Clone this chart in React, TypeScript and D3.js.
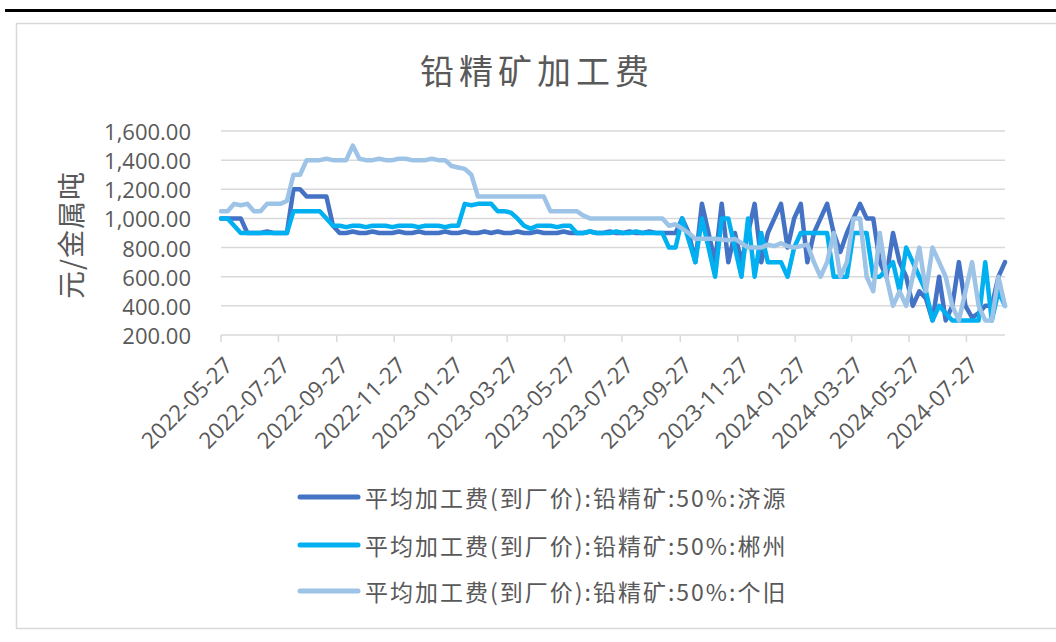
import React, { useEffect, useRef } from "react";
import * as d3 from "d3";

const W = 1056;
const H = 642;

// weekly observations, first one 2022-05-27, last 2024-09-06
const firstDate = "2022-05-27";
const lastDate = "2024-09-06";

const tickLabels = [
  "2022-05-27", "2022-07-27", "2022-09-27", "2022-11-27", "2023-01-27",
  "2023-03-27", "2023-05-27", "2023-07-27", "2023-09-27", "2023-11-27",
  "2024-01-27", "2024-03-27", "2024-05-27", "2024-07-27",
];
const yTicks = [200, 400, 600, 800, 1000, 1200, 1400, 1600];

const seriesNames = [
  "平均加工费(到厂价):铅精矿:50%:济源",
  "平均加工费(到厂价):铅精矿:50%:郴州",
  "平均加工费(到厂价):铅精矿:50%:个旧",
];
const seriesColors = ["#4472C4", "#00B0F0", "#9DC3E6"];

const jiyuan = [
  1000, 1000, 1000, 1000, 900, 900, 900, 910, 900, 900,
  900, 1200, 1200, 1150, 1150, 1150, 1150, 950, 900, 900,
  910, 900, 900, 910, 900, 900, 900, 910, 900, 900,
  910, 900, 900, 900, 910, 900, 900, 910, 900, 900,
  910, 900, 910, 900, 900, 910, 900, 900, 910, 900,
  900, 900, 910, 900, 900, 900, 910, 900, 900, 910,
  900, 900, 910, 900, 900, 910, 900, 900, 900, 900,
  1000, 900, 700, 1100, 900, 700, 1100, 700, 900, 700,
  900, 1100, 700, 900, 1000, 1100, 800, 1000, 1100, 700,
  900, 1000, 1100, 900, 770, 900, 1000, 1100, 1000, 1000,
  700, 600, 900, 700, 600, 400, 500, 450, 300, 600,
  300, 400, 700, 400, 320, 350, 400, 400, 600, 700,
];

const chenzhou = [
  1000, 1000, 950, 900, 900, 900, 900, 900, 900, 900,
  900, 1050, 1050, 1050, 1050, 1050, 1000, 950, 950, 940,
  950, 950, 940, 950, 950, 950, 940, 950, 950, 950,
  940, 950, 950, 950, 940, 950, 950, 1100, 1090, 1100,
  1100, 1100, 1050, 1050, 1040, 1000, 950, 930, 950, 950,
  950, 940, 950, 950, 900, 900, 910, 900, 900, 900,
  910, 900, 900, 910, 900, 900, 900, 900, 800, 800,
  1000, 850, 700, 1000, 800, 600, 1000, 1000, 800, 600,
  1000, 600, 900, 700, 700, 700, 600, 800, 900, 900,
  900, 900, 900, 600, 600, 600, 900, 900, 900, 600,
  600, 650, 700, 500, 800, 700, 600, 500, 300, 400,
  350, 300, 300, 300, 300, 300, 700, 300, 500, 400,
];

const gejiu = [
  1050, 1050, 1100, 1090, 1100, 1050, 1050, 1100, 1100, 1100,
  1120, 1300, 1300, 1400, 1400, 1400, 1410, 1400, 1400, 1400,
  1500, 1410, 1400, 1400, 1410, 1400, 1400, 1410, 1410, 1400,
  1400, 1400, 1410, 1400, 1400, 1360, 1350, 1340, 1300, 1150,
  1150, 1150, 1150, 1150, 1150, 1150, 1150, 1150, 1150, 1150,
  1050, 1050, 1050, 1050, 1050, 1020, 1000, 1000, 1000, 1000,
  1000, 1000, 1000, 1000, 1000, 1000, 1000, 1000, 950, 960,
  930, 900, 860, 860, 860, 860, 855, 850, 860, 830,
  800, 800, 800, 820, 810, 830, 810, 800, 810, 820,
  700, 600, 700, 900, 600, 700, 1000, 1000, 600, 500,
  900, 600, 400, 500, 400, 600, 800, 500, 800, 700,
  600, 400, 300, 500, 700, 400, 300, 300, 600, 400,
];

const allSeries = [jiyuan, chenzhou, gejiu];

const TEXT = "#595959";
const GRID = "#D9D9D9";
const LATIN = "'Open Sans', 'Noto Sans', sans-serif";
const CJK = "'Noto Sans CJK SC', sans-serif";

export default function App() {
  const ref = useRef<SVGSVGElement>(null);

  useEffect(() => {
    if (!ref.current) return;
    const svg = d3.select(ref.current);
    svg.selectAll("*").remove();

    const parse = d3.utcParse("%Y-%m-%d");
    const start = parse(firstDate)!;
    const end = parse(lastDate)!;
    const dates = d3.utcDay.range(start, d3.utcDay.offset(end, 1), 7);

    const x = d3.scaleUtc().domain([start, end]).range([221, 1005]);
    const y = d3.scaleLinear().domain([200, 1600]).range([335, 131]);

    // frame
    svg.append("rect").attr("x", 5).attr("y", 9).attr("width", W - 5).attr("height", 3).attr("fill", "#000");
    svg.append("rect")
      .attr("x", 16.5).attr("y", 23.5).attr("width", 1100).attr("height", 605)
      .attr("fill", "none").attr("stroke", GRID).attr("stroke-width", 1.5);

    // title
    svg.append("text")
      .attr("x", 537).attr("y", 69)
      .attr("text-anchor", "middle").attr("dominant-baseline", "central")
      .attr("font-family", CJK).attr("font-size", 34).attr("letter-spacing", 5)
      .attr("fill", TEXT)
      .text("铅精矿加工费");

    // gridlines
    svg.append("g")
      .selectAll("line")
      .data(yTicks.filter((t) => t > 200))
      .join("line")
      .attr("x1", 221).attr("x2", 1005)
      .attr("y1", (d) => y(d)).attr("y2", (d) => y(d))
      .attr("stroke", GRID).attr("stroke-width", 1.5);

    // y axis labels
    svg.append("g")
      .selectAll("text")
      .data(yTicks)
      .join("text")
      .attr("x", 191).attr("y", (d) => y(d))
      .attr("text-anchor", "end").attr("dominant-baseline", "central")
      .attr("font-family", LATIN).attr("font-size", 22).attr("fill", TEXT)
      .text((d) => d3.format(",.2f")(d));

    svg.append("text")
      .attr("transform", "translate(70,235) rotate(-90)")
      .attr("text-anchor", "middle").attr("dominant-baseline", "central")
      .attr("font-family", CJK).attr("font-size", 28).attr("letter-spacing", 1)
      .attr("fill", TEXT)
      .text("元/金属吨");

    // x axis
    const xAxis = svg.append("g").attr("transform", "translate(0,335)");
    xAxis.append("line").attr("x1", 221).attr("x2", 1005).attr("stroke", GRID).attr("stroke-width", 1.5);
    const tickDates = tickLabels.map((s) => parse(s)!);
    xAxis.selectAll("line.tick")
      .data(tickDates)
      .join("line")
      .attr("class", "tick")
      .attr("x1", (d) => x(d)).attr("x2", (d) => x(d))
      .attr("y1", 0).attr("y2", 7)
      .attr("stroke", GRID).attr("stroke-width", 1.5);
    xAxis.selectAll("text")
      .data(tickDates)
      .join("text")
      .attr("transform", (d) => `translate(${x(d) + 7},${26}) rotate(-45)`)
      .attr("text-anchor", "end").attr("dominant-baseline", "central")
      .attr("font-family", LATIN).attr("font-size", 22.5).attr("fill", TEXT)
      .text((d, i) => tickLabels[i]);

    // lines
    const line = d3.line<number>()
      .x((_, i) => x(dates[i]))
      .y((d) => y(d));
    svg.append("g")
      .selectAll("path")
      .data(allSeries)
      .join("path")
      .attr("d", (d) => line(d))
      .attr("fill", "none")
      .attr("stroke", (_, i) => seriesColors[i])
      .attr("stroke-width", 4.5)
      .attr("stroke-linejoin", "round")
      .attr("stroke-linecap", "round");

    // legend
    const legend = svg.append("g")
      .selectAll("g")
      .data(seriesNames)
      .join("g")
      .attr("transform", (_, i) => `translate(300,${[497, 545, 591][i]})`);
    legend.append("line")
      .attr("x1", 0).attr("x2", 58)
      .attr("stroke", (_, i) => seriesColors[i])
      .attr("stroke-width", 5).attr("stroke-linecap", "round");
    legend.append("text")
      .attr("x", 65).attr("y", 0)
      .attr("dominant-baseline", "central")
      .attr("font-family", CJK).attr("font-size", 23).attr("letter-spacing", 2)
      .attr("fill", TEXT)
      .text((d) => d);
  }, []);

  return (
    <svg
      ref={ref}
      width={W}
      height={H}
      style={{ position: "absolute", left: 0, top: 0, background: "#fff" }}
    />
  );
}
